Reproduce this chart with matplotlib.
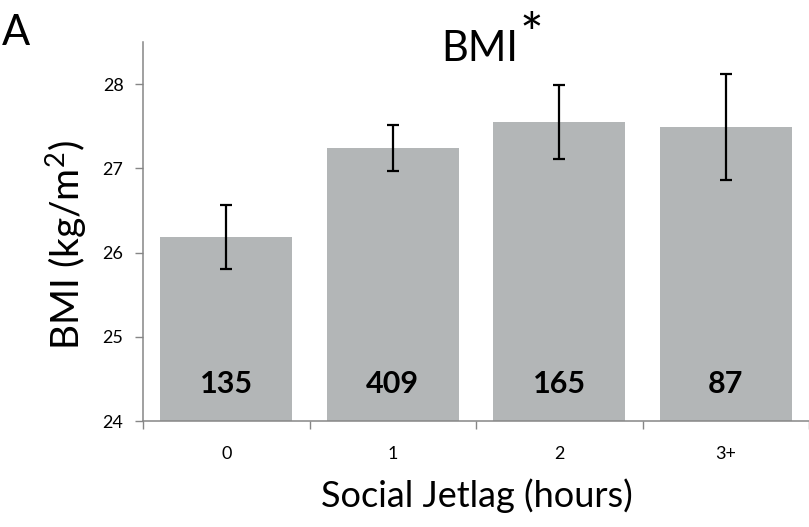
import matplotlib
matplotlib.use("Agg")
import matplotlib.pyplot as plt
import numpy as np

plt.rcParams["font.family"] = ["Lato", "DejaVu Sans"]
plt.rcParams["mathtext.fontset"] = "custom"
plt.rcParams["mathtext.rm"] = "Lato"
plt.rcParams["mathtext.it"] = "Lato:italic"

# data
categories = ["0", "1", "2", "3+"]
bmi_means = [26.19, 27.24, 27.55, 27.49]
bmi_errors = [0.38, 0.275, 0.435, 0.625]
sample_sizes = [135, 409, 165, 87]

axis_grey = "#868686"
bar_grey = "#b3b6b7"
base = 24

fig = plt.figure(figsize=(8.09, 5.27), dpi=100)
ax = fig.add_axes([143 / 809, 106 / 527, 666 / 809, 379 / 527])

x = np.arange(len(categories))
heights = [m - base for m in bmi_means]
ax.bar(x, heights, bottom=base, width=0.79, color=bar_grey, zorder=2)
ax.errorbar(x, bmi_means, yerr=bmi_errors, fmt="none", ecolor="black",
            elinewidth=1.6, capsize=4, capthick=1.6, zorder=3)

# n per group inside bars
for xi, n in zip(x, sample_sizes):
    ax.text(xi, base + 0.33, str(n), ha="center", va="baseline",
            fontsize=22, fontweight="bold", zorder=4)

ax.set_xlim(-0.5, 3.5)
ax.set_ylim(24, 28.5)
ax.set_yticks([24, 25, 26, 27, 28])
ax.set_xticks(x, categories)
ax.set_xticks(np.arange(-0.5, 4, 1), minor=True)

ax.tick_params(axis="y", length=6, width=1, color=axis_grey, pad=8, labelsize=13)
ax.tick_params(axis="x", which="major", length=0, pad=18, labelsize=13)
ax.tick_params(axis="x", which="minor", length=6, width=1, color=axis_grey)

for side in ["top", "right"]:
    ax.spines[side].set_visible(False)
for side in ["left", "bottom"]:
    ax.spines[side].set_color(axis_grey)
    ax.spines[side].set_linewidth(1.1)

fig.text(480 / 809, 1 - 61 / 527, "BMI", ha="center", va="baseline", fontsize=30)
fig.text(531 / 809, 1 - 53 / 527, "*", ha="center", va="baseline", fontsize=40)
fig.text(2 / 809, 1 - 45 / 527, "A", ha="left", va="baseline", fontsize=30)
fig.text(66 / 809, 1 - 245 / 527, "BMI (kg/m$^{2}$)", rotation=90,
         ha="center", va="center", fontsize=28)
fig.text(477 / 809, 1 - 507 / 527, "Social Jetlag (hours)", ha="center",
         va="baseline", fontsize=26)

fig.savefig("out.png", dpi=100)
